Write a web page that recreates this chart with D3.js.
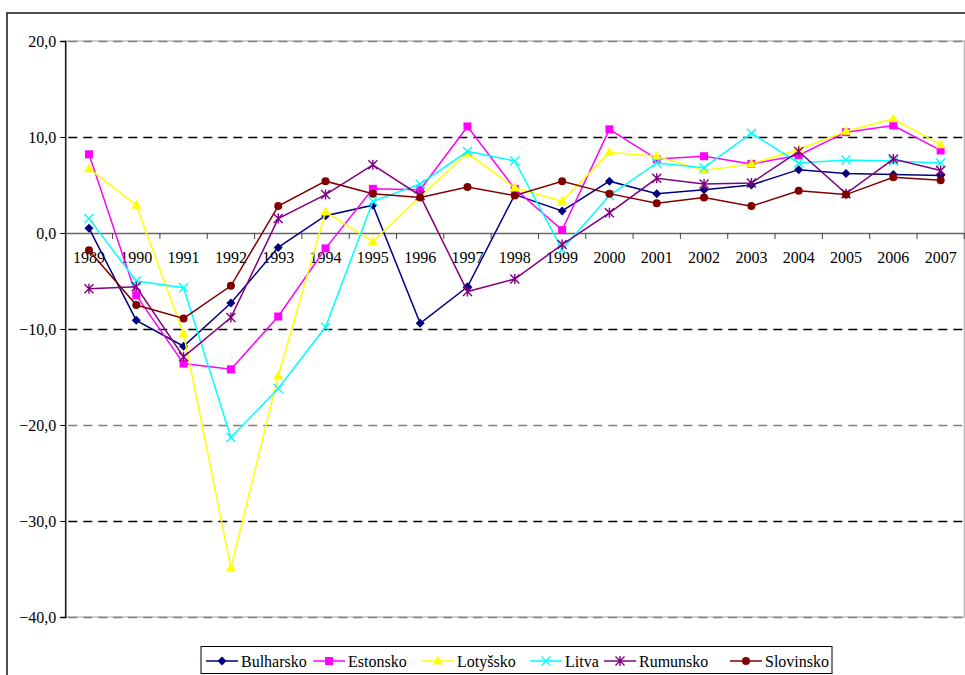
<!DOCTYPE html>
<html><head><meta charset="utf-8">
<script src="https://cdn.jsdelivr.net/npm/d3@7"></script>
<style>body{margin:0;background:#fff}svg{display:block}</style>
</head><body>
<svg id="c" width="965" height="675"></svg>
<script>
const years = ["1989","1990","1991","1992","1993","1994","1995","1996","1997","1998","1999","2000","2001","2002","2003","2004","2005","2006","2007"];
const yTicks = [20,10,0,-10,-20,-30,-40];
const bulharsko = [0.5,-9.1,-11.8,-7.3,-1.5,1.8,2.9,-9.4,-5.6,4.0,2.3,5.4,4.1,4.5,5.0,6.6,6.2,6.1,6.0];
const estonsko  = [8.2,-6.5,-13.6,-14.2,-8.7,-1.6,4.6,4.5,11.1,4.6,0.3,10.8,7.7,8.0,7.2,8.1,10.5,11.2,8.6];
const lotyssko  = [6.7,2.9,-10.5,-34.9,-14.9,2.2,-0.9,3.8,8.3,4.7,3.3,8.4,8.0,6.5,7.2,8.7,10.6,11.9,9.2];
const litva     = [1.5,-5.0,-5.7,-21.3,-16.2,-9.8,3.3,5.1,8.5,7.5,-1.7,3.9,7.3,6.8,10.4,7.3,7.6,7.5,7.3];
const rumunsko  = [-5.8,-5.6,-12.9,-8.8,1.5,4.0,7.1,3.9,-6.1,-4.8,-1.2,2.1,5.7,5.1,5.2,8.5,4.1,7.7,6.5];
const slovinsko = [-1.8,-7.5,-8.9,-5.5,2.8,5.4,4.1,3.7,4.8,3.9,5.4,4.1,3.1,3.7,2.8,4.4,4.0,5.8,5.5];

const seriesNames = ["Bulharsko","Estonsko","Lotyšsko","Litva","Rumunsko","Slovinsko"];
const seriesValues = [bulharsko, estonsko, lotyssko, litva, rumunsko, slovinsko];
const seriesColors = ["#000080","#FF00FF","#FFFF00","#00FFFF","#800080","#800000"];
const seriesMarkers = ["diamond","square","triangle","x","star","circle"];

const svg = d3.select("#c");
const font = "'Liberation Serif', 'Times New Roman', serif";
const L = 65.3, R = 964.3, T = 41, B = 617;

// outer border
svg.append("rect").attr("x",7).attr("y",13).attr("width",975).attr("height",700)
  .attr("fill","none").attr("stroke","#222").attr("stroke-width",1.6);

const x = d3.scaleBand().domain(years).range([L,R]).padding(0);
const y = d3.scaleLinear().domain([-40,20]).range([B,T]);

// plot area border (gray)
svg.append("rect").attr("x",L).attr("y",y(20)).attr("width",R-L).attr("height",y(-40)-y(20))
  .attr("fill","none").attr("stroke","#b8b8b8").attr("stroke-width",1.3);

// gridlines
const grid = svg.append("g");
yTicks.filter(v=>v!==0).forEach(v=>{
  grid.append("line").attr("x1",L).attr("x2",R).attr("y1",y(v)+0.5).attr("y2",y(v)+0.5)
    .attr("stroke", (v===10||v===-10||v===-30)?"#000":"#808080")
    .attr("stroke-width",1.3).attr("stroke-dasharray","9,6").attr("stroke-dashoffset",-3);
});

// y axis
const yAxis = d3.axisLeft(y).tickValues(yTicks).tickSize(5).tickFormat(d=>d3.format(".1f")(d).replace(".",","));
const gy = svg.append("g").attr("transform",`translate(${L},0)`).attr("font-family",font).call(yAxis);
gy.attr("font-family",font);
gy.select(".domain").attr("stroke","#000").attr("stroke-width",1.3);
gy.selectAll(".tick line").attr("stroke","#000");
gy.selectAll("text").attr("font-family",font).attr("font-size",16).attr("fill","#000").attr("x",-9);

// x axis at zero
const xAxis = d3.axisBottom(x).tickSize(0);
const gx = svg.append("g").attr("transform",`translate(0,${y(0)})`).call(xAxis);
gx.attr("font-family",font);
gx.select(".domain").attr("stroke","#666").attr("stroke-width",1.3);
gx.selectAll("text").attr("font-family",font).attr("font-size",16).attr("fill","#000").attr("dy","0").attr("y",30);
// boundary ticks
const bounds = years.map(yr=>x(yr)).concat([R]);
svg.append("g").selectAll("line").data(bounds.slice(1)).join("line")
  .attr("x1",d=>d).attr("x2",d=>d).attr("y1",y(0)).attr("y2",y(0)+6)
  .attr("stroke","#444").attr("stroke-width",1);

const cx = i => x(years[i]) + x.bandwidth()/2;

function marker(g, type, color, px, py){
  if(type==="diamond"){
    g.append("path").attr("d",`M${px},${py-4.5}L${px+4.5},${py}L${px},${py+4.5}L${px-4.5},${py}Z`).attr("fill",color);
  } else if(type==="square"){
    g.append("rect").attr("x",px-4).attr("y",py-4).attr("width",8).attr("height",8).attr("fill",color);
  } else if(type==="triangle"){
    g.append("path").attr("d",`M${px},${py-5.5}L${px+5},${py+3.5}L${px-5},${py+3.5}Z`).attr("fill",color);
  } else if(type==="x"){
    g.append("path").attr("d",`M${px-4.5},${py-4.5}L${px+4.5},${py+4.5}M${px-4.5},${py+4.5}L${px+4.5},${py-4.5}`)
      .attr("stroke",color).attr("stroke-width",1.4).attr("fill","none");
  } else if(type==="star"){
    g.append("path").attr("d",`M${px-4.5},${py-4.5}L${px+4.5},${py+4.5}M${px-4.5},${py+4.5}L${px+4.5},${py-4.5}M${px},${py-5}L${px},${py+5}`)
      .attr("stroke",color).attr("stroke-width",1.4).attr("fill","none");
  } else if(type==="circle"){
    g.append("circle").attr("cx",px).attr("cy",py).attr("r",4).attr("fill",color);
  }
}

const line = d3.line().x((d,i)=>cx(i)).y(d=>y(d));
seriesValues.forEach((vals,si)=>{
  const g = svg.append("g");
  g.append("path").datum(vals).attr("d",line).attr("fill","none")
    .attr("stroke",seriesColors[si]).attr("stroke-width",1.5);
  vals.forEach((v,i)=>marker(g,seriesMarkers[si],seriesColors[si],cx(i),y(v)));
});

// legend
const lg = svg.append("g");
lg.append("rect").attr("x",201).attr("y",646.5).attr("width",631).attr("height",27)
  .attr("fill","#fff").attr("stroke","#000").attr("stroke-width",1);
const legX = [206,313,422,530,604,730];
seriesNames.forEach((n,si)=>{
  const lx = legX[si], ly = 661;
  lg.append("line").attr("x1",lx).attr("x2",lx+32).attr("y1",ly).attr("y2",ly)
    .attr("stroke",seriesColors[si]).attr("stroke-width",1.5);
  marker(lg,seriesMarkers[si],seriesColors[si],lx+16,ly);
  lg.append("text").attr("x",lx+35).attr("y",ly+5.5).attr("font-family",font).attr("font-size",16)
    .attr("fill","#000").text(n);
});
</script>
</body></html>
